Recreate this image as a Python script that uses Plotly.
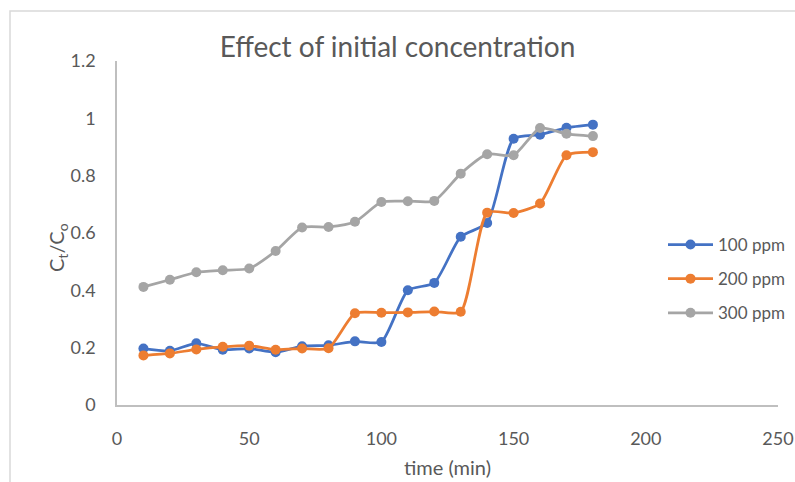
import plotly.graph_objects as go

time_min = [10, 20, 30, 40, 50, 60, 70, 80, 90, 100, 110, 120, 130, 140, 150, 160, 170, 180]
ppm100 = [0.197, 0.189, 0.215, 0.193, 0.197, 0.184, 0.205, 0.208, 0.222, 0.220, 0.400, 0.426, 0.587, 0.635, 0.929, 0.943, 0.967, 0.978]
ppm200 = [0.173, 0.180, 0.194, 0.203, 0.207, 0.193, 0.197, 0.198, 0.320, 0.322, 0.323, 0.326, 0.325, 0.671, 0.670, 0.703, 0.871, 0.882]
ppm300 = [0.412, 0.437, 0.463, 0.470, 0.476, 0.537, 0.619, 0.621, 0.639, 0.708, 0.711, 0.712, 0.807, 0.875, 0.871, 0.966, 0.946, 0.938]

series = [("100 ppm", ppm100, "#4472C4"), ("200 ppm", ppm200, "#ED7D31"), ("300 ppm", ppm300, "#A5A5A5")]

FONT = "Lato, Open Sans, sans-serif"
fig = go.Figure()
for i, (name, vals, col) in enumerate(series):
    fig.add_trace(go.Scatter(
        x=time_min, y=vals, name=name, mode="lines+markers",
        line=dict(color=col, width=2.75, shape="spline", smoothing=0.6),
        marker=dict(color=col, size=10),
        legendgroup=f"g{i}",
    ))

W, H = 795, 482
L, R, T, B = 117, 17, 61, 77
pw, ph = W - L - R, H - T - B

def px_x(p):
    return (p - L) / pw

def px_y(p):
    return (H - B - p) / ph

fig.update_layout(
    width=W, height=H,
    margin=dict(l=L, r=R, t=T, b=B, autoexpand=False),
    paper_bgcolor="white", plot_bgcolor="white",
    font=dict(family=FONT, color="#595959", size=17),
    title=dict(text="Effect of initial concentration", x=0.5, xanchor="center",
               y=1 - 47 / H, yanchor="middle", font=dict(size=28, color="#595959")),
    showlegend=True,
    legend=dict(x=px_x(663), y=px_y(227), xanchor="left", yanchor="top",
                bgcolor="rgba(0,0,0,0)", font=dict(size=17, color="#595959"),
                itemwidth=45, tracegroupgap=9),
    xaxis=dict(range=[0, 250], tickvals=[0, 50, 100, 150, 200, 250], showgrid=False,
               zeroline=False, showline=True, linecolor="#bfbfbf", linewidth=1.5,
               ticks="outside", ticklen=17, tickcolor="rgba(0,0,0,0)", automargin=False,
               tickfont=dict(size=18, color="#595959"),
               title=dict(text="time (min)", font=dict(size=20, color="#595959"), standoff=13)),
    yaxis=dict(range=[0, 1.2], tickvals=[0, 0.2, 0.4, 0.6, 0.8, 1, 1.2],
               ticktext=["0", "0.2", "0.4", "0.6", "0.8", "1", "1.2"], showgrid=False,
               zeroline=False, showline=True, linecolor="#bfbfbf", linewidth=1.5,
               ticks="outside", ticklen=16, tickcolor="rgba(0,0,0,0)", automargin=False,
               tickfont=dict(size=18, color="#595959")),
    annotations=[dict(text="C<sub>t</sub>/C<sub>o</sub>", xref="paper", yref="paper",
                      x=px_x(57), y=px_y(248), xanchor="center", yanchor="middle",
                      textangle=-90, showarrow=False,
                      font=dict(size=20, color="#595959"))],
    shapes=[dict(type="rect", xref="paper", yref="paper",
                 x0=px_x(10), x1=px_x(805), y0=px_y(495), y1=px_y(11),
                 line=dict(color="#d9d9d9", width=1.5), fillcolor="rgba(0,0,0,0)", layer="below")],
)

fig.write_html("out.html")
